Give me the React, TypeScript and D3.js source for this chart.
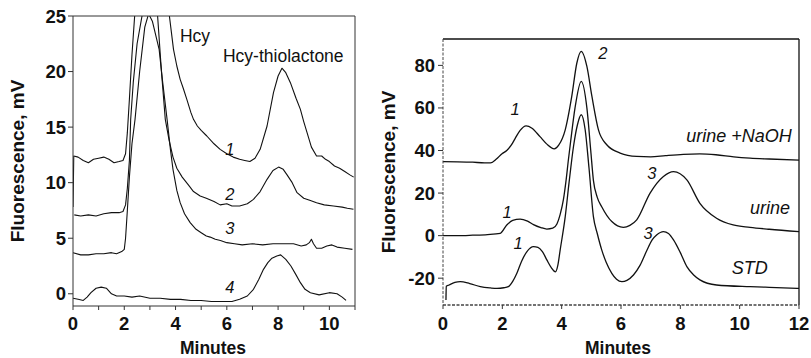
import * as d3 from 'd3'

type Pt = [number, number]

// left panel: traces 1-4 (minutes, mV)
const trace1: Pt[] = [
  [0, 7.8], [0.03, 12.4], [0.2, 12.3], [0.4, 12.0], [0.6, 11.8], [0.8, 12.1], [1.0, 12.2], [1.2, 12.3],
  [1.4, 12.1], [1.6, 11.8], [1.8, 11.9], [1.95, 12.0], [2.05, 12.6], [2.12, 14.5], [2.2, 17.5], [2.3, 21.5],
  [2.42, 25.5], [2.6, 32], [2.9, 36], [3.3, 34], [3.6, 29], [3.76, 25], [3.92, 22], [4.05, 20.5],
  [4.18, 19.3], [4.3, 18.5], [4.44, 17.5], [4.6, 16.3], [4.7, 15.7], [4.85, 15.1], [5.0, 14.7], [5.22, 14.2],
  [5.5, 13.5], [5.74, 13.0], [6.0, 12.6], [6.25, 12.3], [6.5, 12.1], [6.7, 12.0], [6.9, 11.9], [7.1, 12.2],
  [7.3, 13.0], [7.57, 15.1], [7.82, 18.1], [8.0, 19.6], [8.15, 20.3], [8.3, 19.9], [8.48, 19.0], [8.7, 17.6],
  [8.87, 16.6], [9.0, 15.5], [9.13, 14.5], [9.3, 13.2], [9.5, 12.4], [9.7, 12.4], [9.85, 12.1], [10.0, 11.9],
  [10.2, 11.5], [10.4, 11.3], [10.6, 11.0], [10.8, 10.7], [10.95, 10.5],
]
const trace2: Pt[] = [
  [0.05, 7.1], [0.3, 7.0], [0.6, 7.1], [0.9, 7.0], [1.2, 7.2], [1.5, 7.3], [1.8, 7.3], [1.95, 7.4],
  [2.05, 8.0], [2.12, 9.5], [2.2, 12], [2.25, 15.7], [2.35, 19], [2.5, 22.5], [2.73, 25.5], [2.95, 27],
  [3.15, 26.5], [3.3, 25], [3.45, 20], [3.6, 15.7], [3.75, 13.8], [3.9, 12.3], [4.05, 11.3], [4.26, 10.5],
  [4.5, 9.8], [4.7, 9.2], [4.96, 8.8], [5.2, 8.6], [5.5, 8.3], [5.74, 8.0], [6.0, 8.1], [6.2, 7.9],
  [6.5, 7.9], [6.8, 8.1], [7.04, 8.5], [7.3, 9.2], [7.57, 10.3], [7.8, 11.1], [8.02, 11.4], [8.2, 11.2],
  [8.35, 10.7], [8.55, 10.0], [8.74, 9.1], [9.0, 8.6], [9.26, 8.4], [9.5, 8.2], [9.8, 8.0], [10.16, 7.9],
  [10.5, 7.8], [10.7, 7.7], [10.94, 7.6],
]
const trace3: Pt[] = [
  [0, 3.7], [0.3, 3.5], [0.6, 3.5], [0.9, 3.6], [1.2, 3.6], [1.5, 3.7], [1.7, 3.6], [1.9, 3.8],
  [2.0, 4.0], [2.05, 5], [2.12, 7.5], [2.2, 10.5], [2.3, 13.5], [2.42, 15.7], [2.6, 20], [2.8, 24],
  [2.95, 25.2], [3.1, 24.5], [3.36, 22], [3.5, 19], [3.67, 15.7], [3.8, 13], [3.9, 11.2], [4.05, 9.3],
  [4.18, 8.2], [4.35, 7.2], [4.57, 6.4], [4.8, 5.8], [5.0, 5.5], [5.2, 5.2], [5.35, 5.1], [5.55, 4.9],
  [5.75, 4.8], [6.0, 4.6], [6.3, 4.5], [6.6, 4.4], [7.0, 4.5], [7.4, 4.4], [7.8, 4.5], [8.2, 4.5],
  [8.6, 4.5], [8.9, 4.3], [9.1, 4.4], [9.22, 4.6], [9.3, 4.9], [9.38, 4.5], [9.5, 4.1], [9.7, 4.1],
  [9.9, 4.3], [10.1, 4.4], [10.3, 4.2], [10.6, 4.1], [10.9, 4.0],
]
const trace4: Pt[] = [
  [0, -0.4], [0.2, -0.5], [0.4, -0.6], [0.55, -0.3], [0.7, 0.1], [0.9, 0.5], [1.1, 0.6], [1.3, 0.5],
  [1.5, 0.0], [1.7, -0.2], [2.0, -0.2], [2.3, -0.3], [2.6, -0.2], [3.0, -0.4], [3.4, -0.4], [3.8, -0.5],
  [4.2, -0.5], [4.6, -0.6], [5.0, -0.6], [5.4, -0.7], [5.8, -0.7], [6.2, -0.7], [6.5, -0.5], [6.8, -0.2],
  [7.04, 0.4], [7.25, 1.3], [7.43, 2.2], [7.6, 2.8], [7.76, 3.2], [7.95, 3.4], [8.1, 3.5], [8.3, 3.1],
  [8.5, 2.5], [8.7, 1.7], [8.87, 1.0], [9.05, 0.4], [9.26, 0.1], [9.6, -0.1], [10.0, 0.1], [10.3, 0.0],
  [10.5, -0.3], [10.65, -0.6],
]

// right panel: urine + NaOH, urine, STD
const naoh: Pt[] = [
  [0, 34.8], [0.5, 34.7], [1.0, 34.5], [1.4, 34.2], [1.6, 34.2], [1.8, 36], [1.99, 38.5], [2.15, 40],
  [2.3, 42.5], [2.43, 45.6], [2.6, 49.5], [2.8, 51.6], [3.0, 50.5], [3.27, 46.5], [3.5, 43], [3.75, 40.8],
  [3.9, 42.5], [4.12, 49.7], [4.34, 65.4], [4.51, 81], [4.66, 86.6], [4.85, 79.5], [5.02, 65.4], [5.24, 49.7],
  [5.52, 42.7], [5.97, 38.8], [6.53, 37.2], [7.0, 37.0], [7.5, 37.6], [8.1, 38.2], [8.66, 38.4], [9.2, 38.0],
  [9.8, 37.0], [10.35, 36.4], [11.0, 36.0], [12, 35.5],
]
const urine: Pt[] = [
  [0, 0], [0.5, 0], [1.0, 0.2], [1.5, 0.5], [1.93, 1.1], [2.15, 5.0], [2.35, 7.2], [2.6, 7.8],
  [2.85, 6.8], [3.05, 5.2], [3.3, 3.8], [3.5, 3.1], [3.7, 3.5], [3.84, 5.5], [3.95, 10], [4.06, 17],
  [4.14, 25], [4.23, 36], [4.3, 44], [4.45, 60], [4.66, 72.5], [4.85, 60], [4.98, 40], [5.07, 26],
  [5.2, 18], [5.35, 13.6], [5.69, 6.6], [6.08, 3.9], [6.3, 4.8], [6.53, 7.4], [6.98, 20], [7.43, 27.8],
  [7.77, 30.1], [8.22, 26.2], [8.66, 15.2], [9.22, 8.2], [9.78, 5], [10.35, 3.9], [11, 3], [12, 1.9],
]
const std: Pt[] = [
  [0.1, -30.3], [0.11, -23.8], [0.2, -23.2], [0.4, -22], [0.58, -21.6], [0.9, -22.5], [1.26, -24], [1.6, -24.6],
  [1.82, -24.8], [2.05, -24.5], [2.2, -24], [2.35, -21.5], [2.49, -17.7], [2.65, -12], [2.83, -7.5], [3.05, -5.2],
  [3.2, -5.5], [3.35, -7.5], [3.5, -11.4], [3.65, -15], [3.79, -17], [3.87, -14], [3.95, -6.7], [4.12, 8.9],
  [4.25, 25], [4.4, 42], [4.53, 52], [4.66, 56.8], [4.79, 50], [4.92, 32], [5.07, 8.9], [5.2, 1],
  [5.35, -6.7], [5.5, -12.5], [5.69, -17.7], [5.85, -20.5], [6.03, -21.6], [6.2, -21], [6.42, -18.5], [6.64, -14],
  [6.87, -7], [7.05, -2], [7.2, 0.3], [7.43, 1.9], [7.6, 1.0], [7.77, -2], [8.0, -8], [8.22, -14.6],
  [8.45, -18.5], [8.66, -20.8], [9.22, -23.2], [10.35, -24], [11, -24.3], [12, -24.8],
]

const leftYTicks = [0, 5, 10, 15, 20, 25]
const leftXTicks = [0, 2, 4, 6, 8, 10]
const leftXMinor = d3.range(0, 12, 1)
const rightYTicks = [-20, 0, 20, 40, 60, 80]
const rightXTicks = [0, 2, 4, 6, 8, 10, 12]

type Note = { text: string; x: number; y: number; italic?: boolean; anchor?: string }
const leftNotes: Note[] = [
  { text: 'Hcy', x: 4.17, y: 22.66, anchor: 'start' },
  { text: 'Hcy-thiolactone', x: 5.85, y: 20.86, anchor: 'start' },
  { text: '1', x: 6.12, y: 12.49, italic: true },
  { text: '2', x: 6.12, y: 8.44, italic: true },
  { text: '3', x: 6.12, y: 5.38, italic: true },
  { text: '4', x: 6.12, y: 0.07, italic: true },
]
const rightNotes: Note[] = [
  { text: 'urine +NaOH', x: 11.76, y: 43.8, italic: true, anchor: 'end' },
  { text: 'urine', x: 11.7, y: 10.0, italic: true, anchor: 'end' },
  { text: 'STD', x: 10.95, y: -18.1, italic: true, anchor: 'end' },
  { text: '1', x: 2.43, y: 56.9, italic: true },
  { text: '2', x: 5.39, y: 83.2, italic: true },
  { text: '1', x: 2.16, y: 8.2, italic: true },
  { text: '3', x: 7.04, y: 26.8, italic: true },
  { text: '1', x: 2.53, y: -6.05, italic: true },
  { text: '3', x: 6.91, y: -1.35, italic: true },
]

const FONT = '"Liberation Sans", Arial, sans-serif'

const lx = d3.scaleLinear().domain([0, 11]).range([73, 355])
const ly = d3.scaleLinear().domain([-1.1, 25]).range([306, 16])
const rx = d3.scaleLinear().domain([0, 12]).range([443, 799])
const ry = d3.scaleLinear().domain([-32.6, 92.4]).range([305, 39])

export default function App() {
  const leftLine = d3.line<Pt>().x((d) => lx(d[0])).y((d) => ly(d[1]))
  const rightLine = d3
    .line<Pt>()
    .x((d) => rx(d[0]))
    .y((d) => ry(d[1]))
    .curve(d3.curveMonotoneX)

  const [l0, l1] = lx.range()
  const [lb, lt] = ly.range()
  const [r0, r1] = rx.range()
  const [rb, rt] = ry.range()

  return (
    <svg
      width={811}
      height={358}
      style={{ position: 'absolute', left: 0, top: 0, background: '#fff' }}
      fontFamily={FONT}
    >
      <defs>
        <clipPath id="clipL">
          <rect x={l0} y={lt} width={l1 - l0} height={lb - lt} />
        </clipPath>
        <clipPath id="clipR">
          <rect x={r0} y={rt} width={r1 - r0} height={rb - rt} />
        </clipPath>
      </defs>

      {/* left panel */}
      <g clipPath="url(#clipL)" fill="none" stroke="#111" strokeWidth={1.1} strokeLinejoin="round">
        {[trace1, trace2, trace3, trace4].map((t, i) => (
          <path key={i} d={leftLine(t) || ''} />
        ))}
      </g>
      <g stroke="#333" strokeWidth={1} fill="none">
        <line x1={l0} x2={l1} y1={lt} y2={lt} />
        <line x1={l1} x2={l1} y1={lt} y2={lb} />
        <line x1={l0} x2={l0} y1={lt} y2={lb} />
        <line x1={l0} x2={l1} y1={lb} y2={lb} />
        {leftYTicks.map((t) => (
          <line key={t} x1={l0 - 5} x2={l0} y1={ly(t)} y2={ly(t)} />
        ))}
        {leftXMinor.map((t) => (
          <line key={t} x1={lx(t)} x2={lx(t)} y1={lb} y2={lb + 4} />
        ))}
      </g>
      <g fontSize={18.5} fontWeight="bold" fill="#111">
        {leftYTicks.map((t) => (
          <text key={t} x={l0 - 7} y={ly(t) + 6.5} textAnchor="end">
            {t}
          </text>
        ))}
        {leftXTicks.map((t) => (
          <text key={t} x={lx(t)} y={330} textAnchor="middle">
            {t}
          </text>
        ))}
        <text x={213} y={353.5} textAnchor="middle" fontSize={17.5}>
          Minutes
        </text>
        <text transform={`translate(24,${(lt + lb) / 2}) rotate(-90)`} textAnchor="middle" fontSize={19}>
          Fluorescence, mV
        </text>
      </g>
      <g fill="#111">
        {leftNotes.map((n, i) => (
          <text
            key={i}
            x={lx(n.x)}
            y={ly(n.y)}
            textAnchor={n.anchor || 'middle'}
            fontStyle={n.italic ? 'italic' : 'normal'}
            fontSize={n.italic ? 16.5 : 17.5}
          >
            {n.text}
          </text>
        ))}
      </g>

      {/* right panel */}
      <g clipPath="url(#clipR)" fill="none" stroke="#111" strokeWidth={1.3} strokeLinejoin="round">
        {[naoh, urine, std].map((t, i) => (
          <path key={i} d={rightLine(t) || ''} />
        ))}
      </g>
      <g fill="none" strokeWidth={1}>
        <line x1={r0} x2={r1} y1={rt} y2={rt} stroke="#111" strokeWidth={1.3} />
        <line x1={r1} x2={r1} y1={rt} y2={rb} stroke="#111" strokeWidth={1.3} />
        <line x1={r0} x2={r0} y1={rt} y2={rb} stroke="#444" strokeDasharray="3,1.5" />
        <line x1={r0} x2={r1} y1={rb} y2={rb} stroke="#444" strokeWidth={1.3} strokeDasharray="3,1.5" />
        {rightYTicks.map((t) => (
          <line key={t} x1={r0 - 5} x2={r0} y1={ry(t)} y2={ry(t)} stroke="#333" />
        ))}
        {rightXTicks.map((t) => (
          <line key={t} x1={rx(t)} x2={rx(t)} y1={rb} y2={rb + 4} stroke="#333" />
        ))}
      </g>
      <g fontSize={18.5} fontWeight="bold" fill="#111">
        {rightYTicks.map((t) => (
          <text key={t} x={r0 - 8} y={ry(t) + 6.5} textAnchor="end">
            {t}
          </text>
        ))}
        {rightXTicks.map((t) => (
          <text key={t} x={rx(t)} y={330} textAnchor="middle">
            {t}
          </text>
        ))}
        <text x={618} y={353.5} textAnchor="middle" fontSize={17.5}>
          Minutes
        </text>
        <text transform={`translate(395,${(rt + rb) / 2}) rotate(-90)`} textAnchor="middle" fontSize={19}>
          Fluorescence, mV
        </text>
      </g>
      <g fill="#111">
        {rightNotes.map((n, i) => (
          <text
            key={i}
            x={rx(n.x)}
            y={ry(n.y)}
            textAnchor={n.anchor || 'middle'}
            fontStyle="italic"
            fontSize={n.anchor === 'end' ? 18 : 16.5}
          >
            {n.text}
          </text>
        ))}
      </g>
    </svg>
  )
}
